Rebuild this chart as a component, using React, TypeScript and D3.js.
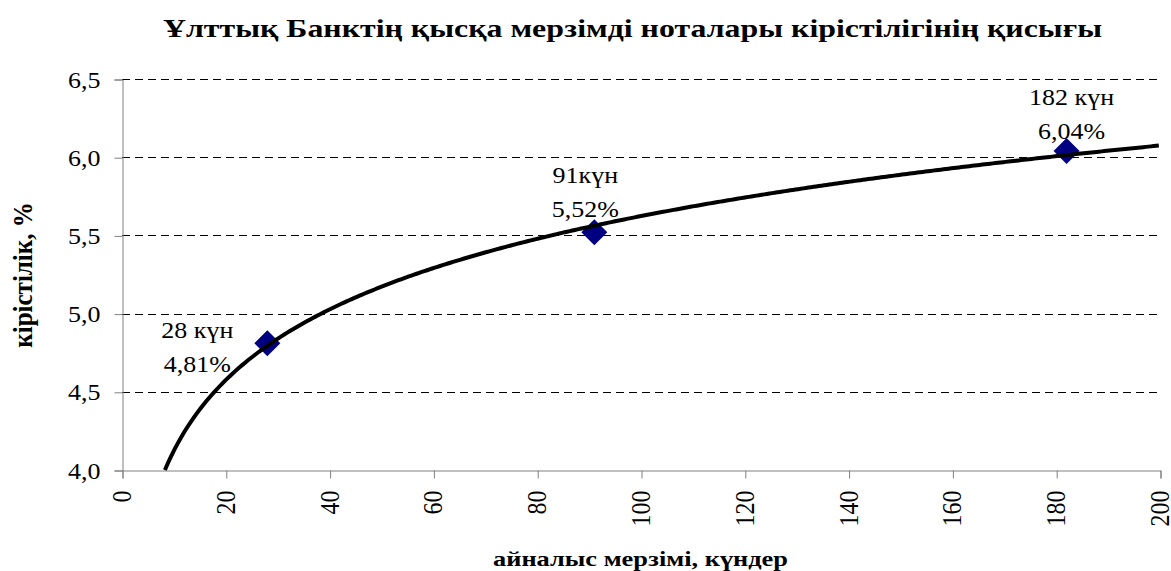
import { useRef, useEffect } from "react";
import * as d3 from "d3";

const days = [28, 91, 182];
const yields = [4.81, 5.52, 6.04];
const dayLabels = ["28 күн", "91күн", "182 күн"];
const yieldLabels = ["4,81%", "5,52%", "6,04%"];
const xTicks = [0, 20, 40, 60, 80, 100, 120, 140, 160, 180, 200];
const yTicks = [4.0, 4.5, 5.0, 5.5, 6.0, 6.5];

const title = "Ұлттық Банктің қысқа мерзімді ноталары кірістілігінің қисығы";
const xTitle = "айналыс мерзімі, күндер";
const yTitle = "кірістілік, %";

// label placement relative to each marker (dx, dy of first line baseline)
const labelOffsets = [
    [-70, -5],
    [-9, -49],
    [5, -46],
];

export default function App() {
    const svgRef = useRef<SVGSVGElement>(null);

    useEffect(() => {
        if (!svgRef.current) return;
        const svg = d3.select(svgRef.current);
        svg.selectAll("*").remove();

        const width = 1171;
        const height = 571;
        const margin = { top: 79, right: 11, bottom: 101, left: 122 };
        const font = '"Liberation Serif", serif';
        const sx = 1.13; // the original chart is stretched horizontally

        const x = d3.scaleLinear().domain([0, 200]).range([margin.left, width - margin.right]);
        const y = d3.scaleLinear().domain([4, 6.5]).range([height - margin.bottom, margin.top]);

        // logarithmic trendline, least squares on ln(x)
        const lx = days.map((d) => Math.log(d));
        const mx = d3.mean(lx)!;
        const my = d3.mean(yields)!;
        const slope =
            d3.sum(lx, (v, i) => (v - mx) * (yields[i] - my)) / d3.sum(lx, (v) => (v - mx) * (v - mx));
        const icpt = my - slope * mx;
        const trend = (d: number) => icpt + slope * Math.log(d);

        svg.attr("width", width)
            .attr("height", height)
            .style("position", "absolute")
            .style("left", "0px")
            .style("top", "0px")
            .style("font-family", font);

        // gridlines
        svg.append("g")
            .selectAll("line")
            .data(yTicks.filter((t) => t > 4))
            .enter()
            .append("line")
            .attr("x1", margin.left)
            .attr("x2", width - margin.right)
            .attr("y1", (d) => Math.round(y(d)) + 0.5)
            .attr("y2", (d) => Math.round(y(d)) + 0.5)
            .attr("stroke", "#000")
            .attr("stroke-dasharray", "8,5");

        // y axis
        const yAxis = svg
            .append("g")
            .attr("transform", `translate(${margin.left + 0.5},0.5)`)
            .call(
                d3
                    .axisLeft(y)
                    .tickValues(yTicks)
                    .tickSize(8)
                    .tickFormat((d) => d3.format(".1f")(d as number).replace(".", ","))
            );
        yAxis.attr("font-family", null).attr("font-size", null);
        yAxis.select(".domain").attr("stroke", "#808080");
        yAxis.selectAll(".tick line").attr("stroke", "#808080");
        yAxis
            .selectAll("text")
            .style("font-family", font)
            .attr("font-size", 23)
            .attr("fill", "#000")
            .attr("x", 0)
            .attr("dy", "0.33em")
            .attr("transform", `translate(-22,0) scale(${sx},1)`);

        // x axis
        const xAxis = svg
            .append("g")
            .attr("transform", `translate(0.5,${height - margin.bottom + 0.5})`)
            .call(d3.axisBottom(x).tickValues(xTicks).tickSize(8).tickFormat((d) => String(d)));
        xAxis.attr("font-family", null).attr("font-size", null);
        xAxis.select(".domain").attr("stroke", "#808080");
        xAxis.selectAll(".tick line").attr("stroke", "#808080");
        xAxis
            .selectAll("text")
            .style("font-family", font)
            .attr("font-size", 24)
            .attr("fill", "#000")
            .attr("text-anchor", "end")
            .attr("transform", `translate(-1,20) scale(${sx},1) rotate(-90)`)
            .attr("x", 0)
            .attr("y", 0)
            .attr("dy", "0.33em");

        // markers
        const diamond = (r: number) => {
            const p = d3.path();
            p.moveTo(0, -r);
            p.lineTo(r, 0);
            p.lineTo(0, r);
            p.lineTo(-r, 0);
            p.closePath();
            return p.toString();
        };
        svg.append("g")
            .selectAll("path")
            .data(days)
            .enter()
            .append("path")
            .attr("transform", (d, i) => `translate(${x(d)},${y(yields[i])})`)
            .attr("d", diamond(13))
            .attr("fill", "#000080");

        // trendline
        const xStart = Math.exp((4 - icpt) / slope);
        const pts = d3.range(xStart, 200.01, 0.5).map((d) => [d, trend(d)] as [number, number]);
        svg.append("path")
            .datum(pts)
            .attr("fill", "none")
            .attr("stroke", "#000")
            .attr("stroke-width", 4)
            .attr(
                "d",
                d3
                    .line<[number, number]>()
                    .x((d) => x(d[0]))
                    .y((d) => y(d[1]))
            );

        // data labels
        const lbl = svg
            .append("g")
            .style("font-family", font)
            .attr("font-size", 23)
            .attr("text-anchor", "middle")
            .selectAll("text")
            .data(days)
            .enter()
            .append("text")
            .attr(
                "transform",
                (d, i) =>
                    `translate(${x(d) + labelOffsets[i][0]},${y(yields[i]) + labelOffsets[i][1]}) scale(${sx},1)`
            );
        lbl.append("tspan").attr("x", 0).text((d, i) => dayLabels[i]);
        lbl.append("tspan")
            .attr("x", 0)
            .attr("dy", 34)
            .text((d, i) => yieldLabels[i]);

        // titles
        svg.append("text")
            .attr("x", 163)
            .attr("y", 37)
            .attr("textLength", 939)
            .attr("lengthAdjust", "spacingAndGlyphs")
            .style("font-family", font)
            .attr("font-weight", "bold")
            .attr("font-size", 26)
            .text(title);
        svg.append("text")
            .attr("x", 493)
            .attr("y", 566)
            .attr("textLength", 295)
            .attr("lengthAdjust", "spacingAndGlyphs")
            .style("font-family", font)
            .attr("font-weight", "bold")
            .attr("font-size", 22)
            .text(xTitle);
        svg.append("text")
            .attr("transform", `translate(32,275) scale(${sx},1) rotate(-90)`)
            .attr("text-anchor", "middle")
            .style("font-family", font)
            .attr("font-weight", "bold")
            .attr("font-size", 25)
            .text(yTitle);
    }, []);

    return <svg ref={svgRef} />;
}
